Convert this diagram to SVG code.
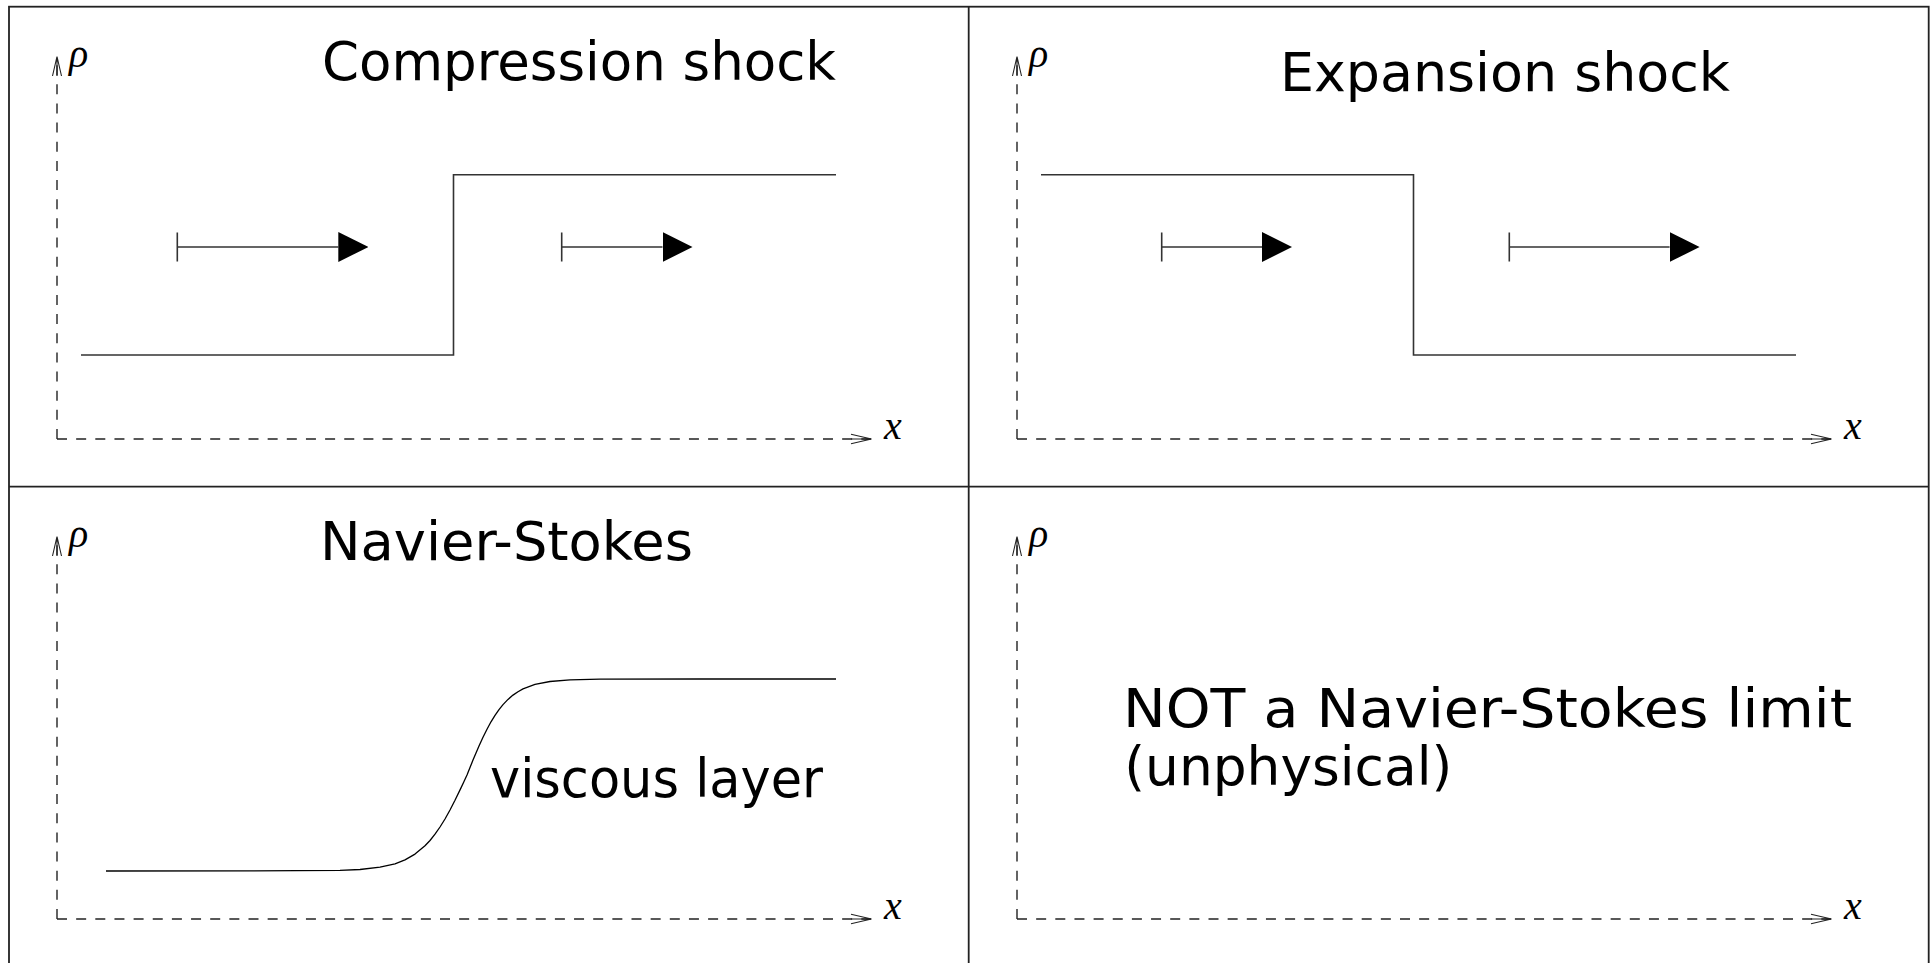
<svg xmlns="http://www.w3.org/2000/svg" xmlns:xlink="http://www.w3.org/1999/xlink" width="1930" height="963" viewBox="0 0 1930 963">
  <style>
    .frame { fill: none; stroke: #222; stroke-width: 1.8; }
    .dash { fill: none; stroke: #222; stroke-width: 1.4; stroke-dasharray: 10 9.15; }
    .tip { fill: none; stroke: #222; stroke-width: 1.1; stroke-linejoin: miter; }
    .state { fill: none; stroke: #333; stroke-width: 1.6; }
    .flow { fill: none; stroke: #333; stroke-width: 1.6; marker-end: url(#head); }
    .profile { fill: none; stroke: #000; stroke-width: 1.3; stroke-linejoin: round; }
    .title { font-family: "DejaVu Sans", "Liberation Sans", sans-serif; font-size: 53px; fill: #000; }
    .math { font-family: "Liberation Serif", "DejaVu Serif", serif; font-style: italic; font-size: 40px; fill: #000; }
  </style>
  <defs>
    <!-- filled triangular head for the velocity arrows -->
    <marker id="head" markerUnits="userSpaceOnUse" viewBox="0 0 30 30" markerWidth="30" markerHeight="30" refX="0" refY="15" orient="auto">
      <path d="M0,0 L30,15 L0,30 Z" fill="#000"/>
    </marker>
    <!-- dashed rho-x axes shared by all four plots -->
    <g id="axes">
      <path class="dash" d="M57,439 V57"/>
      <path class="dash" d="M57,439 H871"/>
      <path class="tip" d="M52.5,76 L57,56.5 L61.5,76 M57,56.5 V76"/>
      <path class="tip" d="M851,434.3 L871.5,439 L851,443.7 M851,439 H871.5"/>
      <text class="math" x="69" y="67">ρ</text>
      <text class="math" x="884" y="439">x</text>
    </g>
  </defs>

  <rect width="1930" height="963" fill="#fff"/>

  <!-- panel frame -->
  <g id="frame">
    <rect class="frame" x="9" y="6.7" width="1919.7" height="960"/>
    <line class="frame" x1="968.7" y1="6.7" x2="968.7" y2="963"/>
    <line class="frame" x1="9" y1="486.7" x2="1928.7" y2="486.7"/>
  </g>

  <!-- top left: compression shock -->
  <g id="compression-shock">
    <use xlink:href="#axes" href="#axes"/>
    <text class="title" x="322" y="80" textLength="514" lengthAdjust="spacingAndGlyphs">Compression shock</text>
    <path class="state" d="M81,355 H453.5 V174.7 H836"/>
    <g id="compression-flow">
      <path class="flow" d="M177.3,232.5 V261.5 M177.3,247 H338.3"/>
      <path class="flow" d="M561.7,232.5 V261.5 M561.7,247 H662.5"/>
    </g>
  </g>

  <!-- top right: expansion shock -->
  <g id="expansion-shock" transform="translate(960,0)">
    <use xlink:href="#axes" href="#axes"/>
    <text class="title" x="320" y="91" textLength="450" lengthAdjust="spacingAndGlyphs">Expansion shock</text>
    <path class="state" d="M81,174.7 H453.5 V355 H836"/>
    <g id="expansion-flow">
      <path class="flow" d="M201.7,232.5 V261.5 M201.7,247 H302"/>
      <path class="flow" d="M549.3,232.5 V261.5 M549.3,247 H709.6"/>
    </g>
  </g>

  <!-- bottom left: smooth viscous profile -->
  <g id="navier-stokes" transform="translate(0,480)">
    <use xlink:href="#axes" href="#axes"/>
    <text class="title" x="320" y="79.5" textLength="373" lengthAdjust="spacingAndGlyphs">Navier-Stokes</text>
    <polyline class="profile" points="106,391 250,390.9 340,390.4 360,389.5 380,387.2 395,383.8 405,379.9 415,374.1 425,365.8 430,360.5 435,354.2 440,347 445,339 450,330 455,320.3 461,307.9 464,301.5 467,295 470,287.5 473,280.1 476,272.9 479,266 483,257.2 487,249.2 491,241.8 495,235.3 499,229.6 503,224.6 508,219.4 513,215.1 518,211.7 523,208.9 535,204.4 550,201.5 570,199.9 600,199.2 700,199 836,199"/>
    <text class="title" x="490" y="317" textLength="333" lengthAdjust="spacingAndGlyphs">viscous layer</text>
  </g>

  <!-- bottom right: no viscous counterpart -->
  <g id="no-limit" transform="translate(960,480)">
    <use xlink:href="#axes" href="#axes"/>
    <text class="title" x="163" y="246.7" textLength="729" lengthAdjust="spacingAndGlyphs">NOT a Navier-Stokes limit</text>
    <text class="title" x="164.3" y="304.5" textLength="328" lengthAdjust="spacingAndGlyphs">(unphysical)</text>
  </g>
</svg>
